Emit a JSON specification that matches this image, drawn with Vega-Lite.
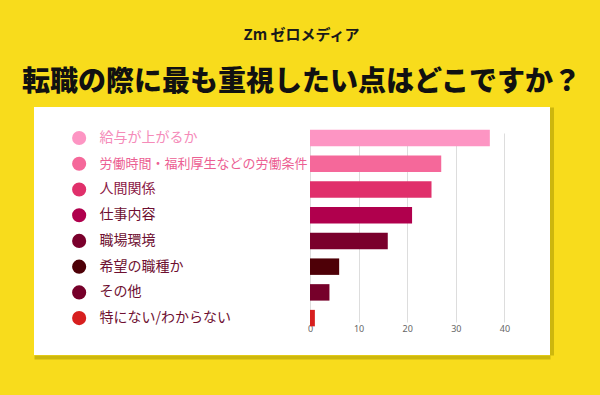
{
  "$schema": "https://vega.github.io/schema/vega-lite/v6.json",
  "width": 516,
  "height": 248,
  "autosize": {"type": "none"},
  "padding": {"left": 34, "top": 107, "right": 50, "bottom": 40},
  "background": "#f8dc1c",
  "config": {"font": "Noto Sans CJK JP", "view": {"fill": "white", "stroke": null}},
  "title": {
    "text": "Zm  ゼロメディア",
    "subtitle": "転職の際に最も重視したい点はどこですか？",
    "anchor": "middle",
    "frame": "group",
    "dx": 9.5,
    "font": "Noto Sans CJK JP",
    "fontSize": 15,
    "fontWeight": "bold",
    "color": "#1a1a1a",
    "subtitleFont": "Noto Sans CJK JP",
    "subtitleFontSize": 28,
    "subtitleFontWeight": 900,
    "subtitleColor": "#111111",
    "subtitlePadding": 26,
    "offset": 10
  },
  "data": {
    "values": [
      {"item": "給与が上がるか", "value": 37},
      {"item": "労働時間・福利厚生などの労働条件", "value": 27},
      {"item": "人間関係", "value": 25},
      {"item": "仕事内容", "value": 21},
      {"item": "職場環境", "value": 16},
      {"item": "希望の職種か", "value": 6},
      {"item": "その他", "value": 4},
      {"item": "特にない/わからない", "value": 1}
    ]
  },
  "encoding": {
    "color": {
      "field": "item",
      "type": "nominal",
      "sort": null,
      "scale": {
        "domain": ["給与が上がるか", "労働時間・福利厚生などの労働条件", "人間関係", "仕事内容", "職場環境", "希望の職種か", "その他", "特にない/わからない"],
        "range": ["#fd95c3", "#f5689a", "#e0306b", "#b0004d", "#7a002c", "#4e0007", "#76002a", "#d71f1f"]
      },
      "legend": null
    }
  },
  "layer": [
    {
      "mark": {"type": "bar"},
      "encoding": {
        "x": {
          "field": "value",
          "type": "quantitative",
          "scale": {"domain": [-56.79, 49.38], "nice": false, "zero": false},
          "axis": {
            "orient": "bottom",
            "offset": -33,
            "values": [0, 10, 20, 30, 40],
            "grid": false,
            "domain": false,
            "ticks": true,
            "tickSize": -189,
            "tickColor": "#dddddd",
            "tickWidth": 1,
            "labelPadding": 191,
            "labelColor": "#666666",
            "labelFontSize": 9,
            "labelFont": "Noto Sans",
            "title": null
          }
        },
        "y": {
          "field": "item",
          "type": "nominal",
          "sort": null,
          "scale": {"paddingInner": 0.36, "paddingOuter": 1.243, "align": 0.443},
          "axis": {
            "orient": "left",
            "ticks": false,
            "domain": false,
            "grid": false,
            "title": null,
            "labelAlign": "left",
            "labelBaseline": "middle",
            "labelPadding": -65,
            "labelLimit": 300,
            "labelFontSize": {"condition": {"test": "datum.value === '労働時間・福利厚生などの労働条件'", "value": 13}, "value": 14},
            "labelColor": {
              "condition": [
                {"test": "datum.value === '給与が上がるか'", "value": "#f58bb9"},
                {"test": "datum.value === '労働時間・福利厚生などの労働条件'", "value": "#ec5f93"},
                {"test": "datum.value === '人間関係'", "value": "#8b1a46"}
              ],
              "value": "#6e0f31"
            }
          }
        }
      }
    },
    {
      "mark": {"type": "point", "filled": true, "size": 200, "opacity": 1},
      "encoding": {
        "x": {
          "datum": -47.5,
          "type": "quantitative",
          "axis": {
            "orient": "bottom",
            "offset": 2,
            "domain": true,
            "domainColor": "#cdb70e",
            "domainWidth": 4,
            "ticks": false,
            "labels": false,
            "grid": false,
            "title": null
          }
        },
        "y": {
          "field": "item",
          "type": "nominal",
          "sort": null,
          "axis": {
            "orient": "right",
            "offset": 1.5,
            "domain": true,
            "domainColor": "#cdb70e",
            "domainWidth": 4,
            "ticks": false,
            "labels": false,
            "grid": false,
            "title": null
          }
        }
      }
    }
  ],
  "resolve": {"axis": {"x": "independent", "y": "independent"}}
}
